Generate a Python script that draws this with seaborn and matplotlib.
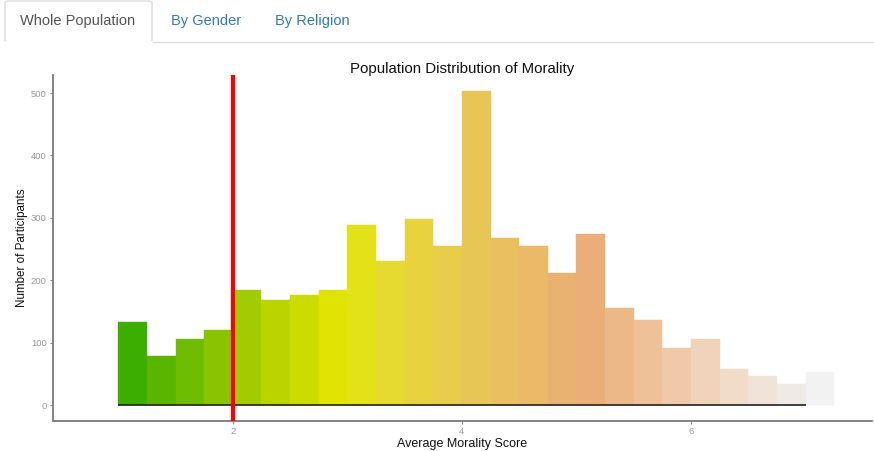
import matplotlib
matplotlib.use("Agg")
import matplotlib.pyplot as plt
from matplotlib.patches import FancyBboxPatch
from matplotlib.lines import Line2D
import seaborn as sns
import pandas as pd

# ---- data ----
bin_starts = [1.0, 1.25, 1.5, 1.75, 2.0, 2.25, 2.5, 2.75, 3.0, 3.25, 3.5, 3.75,
              4.0, 4.25, 4.5, 4.75, 5.0, 5.25, 5.5, 5.75, 6.0, 6.25, 6.5, 6.75, 7.0]
counts = [133, 78, 106, 120, 184, 168, 176, 184, 288, 231, 298, 255,
          503, 268, 255, 211, 274, 155, 136, 91, 106, 58, 46, 34, 53]
x_ticks = [2, 4, 6]
y_ticks = [0, 100, 200, 300, 400, 500]
cutoff = 2
tab_labels = ["Whole Population", "By Gender", "By Religion"]
title = "Population Distribution of Morality"
xlabel = "Average Morality Score"
ylabel = "Number of Participants"

# terrain-like palette, one colour per bin
palette = ["#3BAE00", "#59B500", "#6FBC00", "#88C400", "#A0CC00", "#B8D500",
           "#CCDC00", "#E0E400", "#E3E118", "#E6DA30", "#E8D33E", "#E8CD4A",
           "#E8C655", "#EABF60", "#EBB968", "#EAB270", "#EBAE78", "#EDB887",
           "#EFC198", "#F0CAA8", "#F0D3B8", "#F1DCC9", "#F0E4D9", "#F0EAE5",
           "#F2F2F2"]

binw = 0.25
df = pd.DataFrame({"score": [b + binw / 2 for b in bin_starts], "n": counts})

sns.set_theme(style="white")
plt.rcParams["font.family"] = ["Liberation Sans", "DejaVu Sans"]

fig = plt.figure(figsize=(8.74, 4.51), dpi=100)
ax = fig.add_axes([53 / 874, 1 - 421 / 451, (872 - 53) / 874, (421 - 75) / 451])

sns.histplot(data=df, x="score", weights="n", binwidth=binw,
             binrange=(bin_starts[0], bin_starts[-1] + binw),
             stat="count", element="bars", fill=True, alpha=1,
             edgecolor="none", linewidth=0, ax=ax)
for p, c in zip(ax.patches, palette):
    p.set_facecolor(c)
    p.set_edgecolor(c)
    p.set_linewidth(0.3)

ax.hlines(0, bin_starts[0], bin_starts[-1], color="#222222", lw=1.2, zorder=3)
ax.axvline(cutoff, color="#FF0000", lw=3.0, zorder=4)

ax.set_xlim(0.43, 7.58)
ax.set_ylim(-25.5, 529)
ax.set_xticks(x_ticks)
ax.set_yticks(y_ticks)
ax.set_xticklabels([str(v) for v in x_ticks])
ax.set_yticklabels([str(v) for v in y_ticks])

for s in ["top", "right"]:
    ax.spines[s].set_visible(False)
for s in ["left", "bottom"]:
    ax.spines[s].set_color("#7a7a7a")
    ax.spines[s].set_linewidth(1.3)
ax.tick_params(axis="both", which="major", length=2.5, width=0.8,
               color="#888888", labelcolor="#9a9a9a", labelsize=6.8, pad=2,
               bottom=True, left=True)
ax.grid(False)

ax.set_xlabel(xlabel, fontsize=9, color="#111111", labelpad=1.5)
ax.set_ylabel(ylabel, fontsize=8.4, color="#111111", labelpad=2)
ax.set_title(title, fontsize=10.8, color="#111111", pad=1.5)

# ---- tabs ----
W, H = 874, 451
def fx(px):
    return px / W
def fy(py):
    return 1 - py / H

tab = FancyBboxPatch((fx(5), fy(42)), fx(152) - fx(5), fy(1) - fy(42),
                     boxstyle="round,pad=0,rounding_size=0.004",
                     transform=fig.transFigure, facecolor="white",
                     edgecolor="#dddddd", linewidth=1.0, zorder=1)
fig.patches.append(tab)
fig.add_artist(Line2D([fx(152), fx(874)], [fy(42), fy(42)],
                      transform=fig.transFigure, color="#dddddd", lw=1.0))
fig.add_artist(Line2D([fx(5.5), fx(151.5)], [fy(42), fy(42)],
                      transform=fig.transFigure, color="white", lw=1.4, zorder=2))

tab_x = [78, 206, 312]
tab_c = ["#555555", "#337ab7", "#337ab7"]
for lbl, x, c in zip(tab_labels, tab_x, tab_c):
    fig.text(fx(x), fy(21), lbl, ha="center", va="center", fontsize=10.5,
             color=c, family=["Liberation Sans", "DejaVu Sans"])

fig.savefig("out.png", dpi=100)
